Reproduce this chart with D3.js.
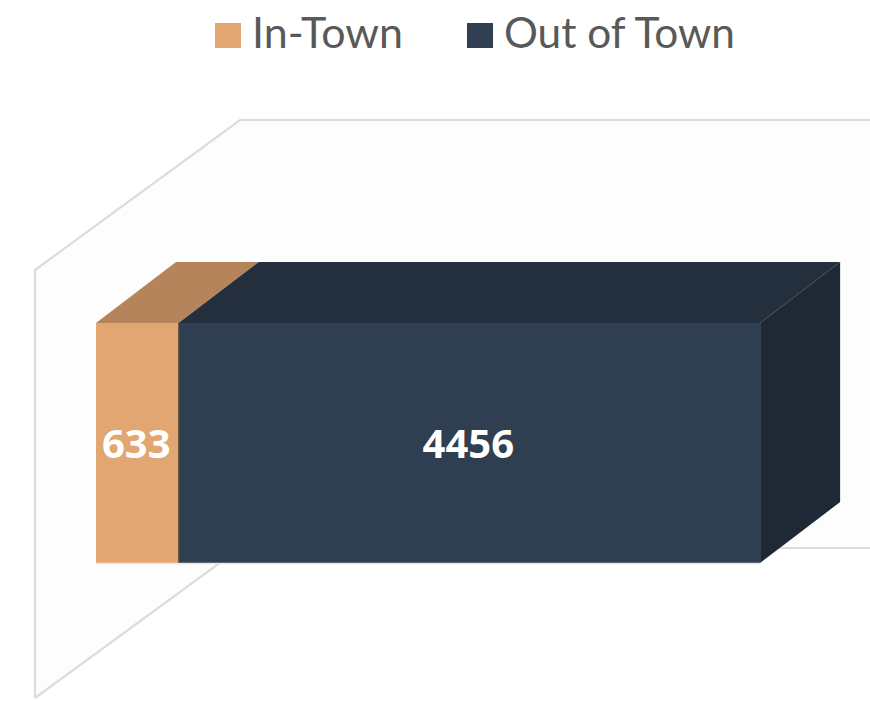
<!DOCTYPE html>
<html><head><meta charset="utf-8">
<script src="https://cdn.jsdelivr.net/npm/d3@7"></script>
<style>html,body{margin:0;padding:0;background:#fff;}svg{display:block;}</style>
</head><body>
<svg id="chart" width="870" height="701"></svg>
<script>
const seriesNames = ["In-Town", "Out of Town"];
const seriesValues = [633, 4456];
const seriesColors = ["#E1A672", "#2F3E50"];
const topColors = ["#B5845A", "#242F3E"];
const sideColors = ["#8F6846", "#1F2935"];
const legendTextLengths = [151, 231];

const W = 870, H = 701;
const svg = d3.select("#chart");

// value scale (horizontal stacked bar)
const x = d3.scaleLinear().domain([0, 6000]).range([96, 879]);
const y = d3.scaleBand().domain(["All"]).range([323, 563]);
const depth = {dx: 80, dy: -61};
const wall = {dx: 205, dy: -150};

// walls
const wallG = svg.append("g");
const wx0 = 35, wyTop = 270, wyBot = 698;
wallG.append("path")
  .attr("d", `M${wx0},${wyTop}L${wx0+wall.dx},${wyTop+wall.dy}L${W+5},${wyTop+wall.dy}L${W+5},${wyBot+wall.dy}L${wx0+wall.dx},${wyBot+wall.dy}L${wx0},${wyBot}Z`)
  .attr("fill", "#fdfdfd").attr("stroke", "none");
const lineStyle = s => s.attr("stroke", "#dcdcdc").attr("stroke-width", 2.2).attr("fill", "none");
wallG.append("path").attr("d", `M${wx0},${wyBot}L${wx0},${wyTop}L${wx0+wall.dx},${wyTop+wall.dy}L${W+5},${wyTop+wall.dy}`).call(lineStyle);
wallG.append("path").attr("d", `M${wx0},${wyBot}L${wx0+wall.dx},${wyBot+wall.dy}L${W+5},${wyBot+wall.dy}`).call(lineStyle);

// stacked data
let acc = 0;
const stack = seriesValues.map((v, i) => {
  const s = {name: seriesNames[i], value: v, x0: acc, x1: acc + v, i};
  acc += v; return s;
});

const bars = svg.append("g");
const y0 = y("All"), y1 = y("All") + y.bandwidth();
// top faces
bars.selectAll("path.top").data(stack).join("path").attr("class", "top")
  .attr("d", d => {
    const a = x(d.x0), b = x(d.x1);
    return `M${a},${y0}L${a+depth.dx},${y0+depth.dy}L${b+depth.dx},${y0+depth.dy}L${b},${y0}Z`;
  })
  .attr("fill", d => topColors[d.i]);
// right side face of last segment
const last = stack[stack.length - 1];
bars.append("path")
  .attr("d", () => {
    const b = x(last.x1);
    return `M${b},${y0}L${b+depth.dx},${y0+depth.dy}L${b+depth.dx},${y1+depth.dy}L${b},${y1}Z`;
  })
  .attr("fill", sideColors[last.i]);
// fronts
bars.selectAll("rect.front").data(stack).join("rect").attr("class", "front")
  .attr("x", d => x(d.x0)).attr("y", y0)
  .attr("width", d => x(d.x1) - x(d.x0)).attr("height", y.bandwidth())
  .attr("fill", d => seriesColors[d.i]);
// divider edges
bars.selectAll("line.div").data(stack.slice(1)).join("line").attr("class", "div")
  .attr("x1", d => x(d.x0)).attr("x2", d => x(d.x0)).attr("y1", y0).attr("y2", y1)
  .attr("stroke", "#6b5840").attr("stroke-width", 1.2);
// bottom light edge
bars.append("line").attr("x1", x(0)).attr("x2", x(last.x1)).attr("y1", y1 + 0.5).attr("y2", y1 + 0.5)
  .attr("stroke", "#e6e6e6").attr("stroke-width", 1.5);

// labels
bars.selectAll("text.lbl").data(stack).join("text").attr("class", "lbl")
  .attr("x", d => (x(d.x0) + x(d.x1)) / 2 - 1)
  .attr("y", (y0 + y1) / 2 + 15)
  .attr("text-anchor", "middle")
  .attr("font-family", "'Open Sans', sans-serif").attr("font-weight", 700)
  .attr("font-size", 40).attr("fill", "#ffffff")
  .text(d => d.value);

// legend
const legendX = [215, 467];
const leg = svg.append("g");
seriesNames.forEach((n, i) => {
  leg.append("rect").attr("x", legendX[i]).attr("y", 23).attr("width", 26).attr("height", 25)
    .attr("fill", seriesColors[i]);
  leg.append("text").attr("x", legendX[i] + 37).attr("y", 47.5)
    .attr("font-family", "Lato, sans-serif").attr("font-size", 42)
    .attr("textLength", legendTextLengths[i]).attr("lengthAdjust", "spacingAndGlyphs")
    .attr("fill", "#595959").text(n);
});
</script>
</body></html>
